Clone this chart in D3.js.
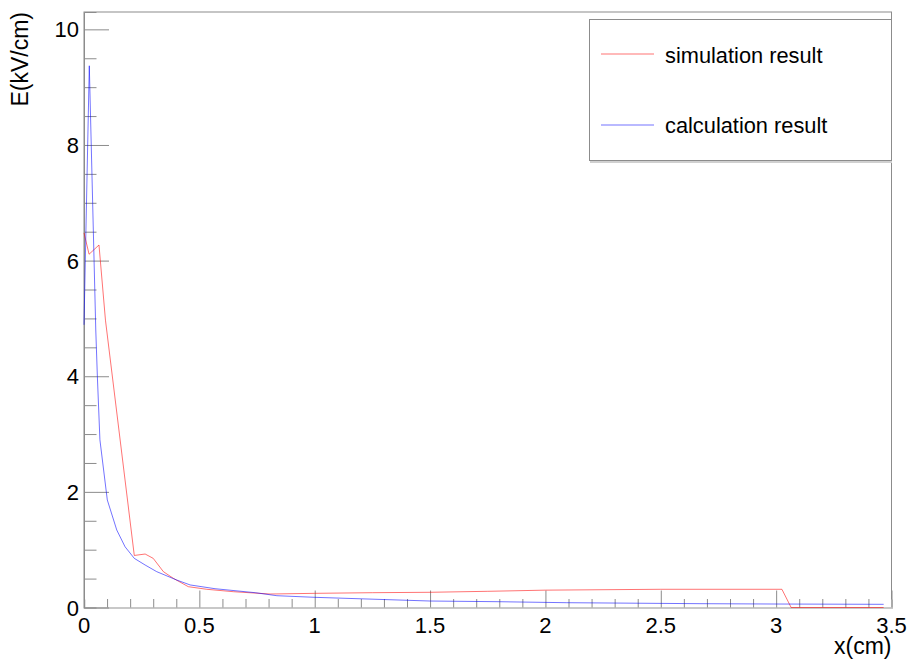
<!DOCTYPE html>
<html>
<head>
<meta charset="utf-8">
<script src="https://cdn.jsdelivr.net/npm/d3@7"></script>
<style>
  html, body { margin: 0; padding: 0; background: #fff; }
  svg { display: block; font-family: "Liberation Sans", Arial, Helvetica, sans-serif; }
</style>
</head>
<body>
<svg id="chart" width="914" height="664"></svg>
<script>
// Simulated field profile E(x)
const simX = [0, 0.022, 0.065, 0.093, 0.218, 0.265, 0.30, 0.344, 0.387, 0.452, 0.532, 0.648, 0.807, 1.0, 1.25, 1.5, 1.75, 2.0, 2.5, 3.025, 3.065, 3.466];
const simE = [6.48, 6.11, 6.27, 4.97, 0.90, 0.925, 0.85, 0.62, 0.505, 0.36, 0.315, 0.273, 0.233, 0.245, 0.256, 0.263, 0.28, 0.30, 0.315, 0.315, 0, 0];

// Calculated field profile E(x)
const calcX = [0, 0.023, 0.051, 0.058, 0.069, 0.101, 0.142, 0.178, 0.218, 0.265, 0.315, 0.402, 0.46, 0.568, 0.742, 0.836, 1.0, 1.5, 1.8, 2.09, 2.67, 3.0, 3.466];
const calcE = [4.89, 9.37, 4.80, 3.99, 2.90, 1.86, 1.34, 1.05, 0.85, 0.735, 0.62, 0.475, 0.39, 0.325, 0.256, 0.204, 0.176, 0.112, 0.10, 0.083, 0.066, 0.06, 0.055];

const xMajorTicks = [0, 0.5, 1, 1.5, 2, 2.5, 3, 3.5];
const xTickLabels = ["0", "0.5", "1", "1.5", "2", "2.5", "3", "3.5"];
const yMajorTicks = [0, 2, 4, 6, 8, 10];
const yTickLabels = ["0", "2", "4", "6", "8", "10"];

const seriesNames = ["simulation result", "calculation result"];
const seriesColors = ["#ff0000", "#0000ff"];

const svg = d3.select("#chart");
const frame = { left: 84, right: 891.5, top: 12, bottom: 607.5 };

const x = d3.scaleLinear().domain([0, 3.5]).range([frame.left, frame.right]);
const y = d3.scaleLinear().domain([0, 10.3]).range([frame.bottom, frame.top]);

const gray = "#8c8c8c";

// Frame
svg.append("rect")
  .attr("x", frame.left).attr("y", frame.top)
  .attr("width", frame.right - frame.left).attr("height", frame.bottom - frame.top)
  .attr("fill", "none").attr("stroke", gray).attr("stroke-width", 1);

// X axis ticks (drawn upward into the frame)
const xMinor = d3.range(0, 35 + 1).map(i => i / 10);
const xAxis = d3.axisTop(x).tickValues(xMinor).tickSize(8).tickFormat("");
const gx = svg.append("g").attr("transform", `translate(0,${frame.bottom})`).call(xAxis);
gx.selectAll(".tick line").attr("stroke", gray)
  .attr("y2", d => (Math.abs(d * 2 - Math.round(d * 2)) < 1e-9 ? -17 : -8.5));
gx.select(".domain").attr("stroke", "#c8c8c8").attr("stroke-width", 2);

svg.append("g").selectAll("text").data(xMajorTicks).join("text")
  .attr("x", d => x(d)).attr("y", 633)
  .attr("text-anchor", "middle").attr("font-size", 22).attr("fill", "#000")
  .text((d, i) => xTickLabels[i]);

// Y axis ticks (drawn rightward into the frame)
const yMinor = d3.range(0, 20 + 1).map(i => i / 2);
const yAxis = d3.axisRight(y).tickValues(yMinor).tickSize(12.5).tickFormat("");
const gy = svg.append("g").attr("transform", `translate(${frame.left},0)`).call(yAxis);
gy.selectAll(".tick line").attr("stroke", gray)
  .attr("x2", d => (d % 2 === 0 ? 25 : 12.5));
gy.select(".domain").attr("stroke", gray);

svg.append("g").selectAll("text").data(yMajorTicks).join("text")
  .attr("x", 79).attr("y", d => y(d) + 8)
  .attr("text-anchor", "end").attr("font-size", 22).attr("fill", "#000")
  .text((d, i) => yTickLabels[i]);

// Axis titles
svg.append("text")
  .attr("transform", "translate(28,12) rotate(-90)")
  .attr("text-anchor", "end").attr("font-size", 23).attr("fill", "#000")
  .text("E(kV/cm)");
svg.append("text")
  .attr("x", frame.right).attr("y", 654)
  .attr("text-anchor", "end").attr("font-size", 23).attr("fill", "#000")
  .text("x(cm)");

// Curves
const line = d3.line().x(d => x(d[0])).y(d => y(d[1]));
const series = [d3.zip(simX, simE), d3.zip(calcX, calcE)];
svg.append("g").selectAll("path").data(series).join("path")
  .attr("d", line)
  .attr("fill", "none")
  .attr("stroke", (d, i) => seriesColors[i])
  .attr("stroke-opacity", 0.55)
  .attr("stroke-width", 1);

// Legend
const leg = svg.append("g");
leg.append("line").attr("x1", 590).attr("x2", 892).attr("y1", 162).attr("y2", 162)
  .attr("stroke", "#d0d0d0").attr("stroke-width", 2);
leg.append("rect").attr("x", 589.5).attr("y", 19.5).attr("width", 302).attr("height", 141)
  .attr("fill", "#fff").attr("stroke", gray).attr("stroke-width", 1);
const legRows = [{ ly: 54, ty: 63.3 }, { ly: 125, ty: 133.3 }];
legRows.forEach((r, i) => {
  leg.append("line").attr("x1", 601).attr("x2", 654).attr("y1", r.ly).attr("y2", r.ly)
    .attr("stroke", seriesColors[i]).attr("stroke-opacity", 0.55).attr("stroke-width", 1);
  leg.append("text").attr("x", 665).attr("y", r.ty)
    .attr("font-size", 21.8).attr("fill", "#000").text(seriesNames[i]);
});
</script>
</body>
</html>
